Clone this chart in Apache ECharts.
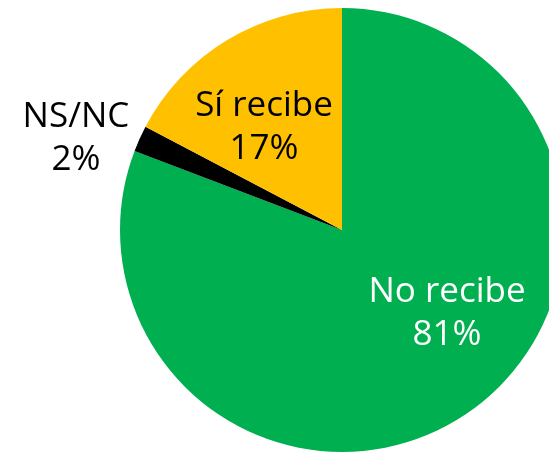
<!DOCTYPE html>
<html>
<head>
<meta charset="utf-8">
<script src="https://cdn.jsdelivr.net/npm/echarts@6/dist/echarts.min.js"></script>
<style>
  html, body { margin: 0; padding: 0; background: #fff; }
  #chart { width: 549px; height: 452px; }
</style>
</head>
<body>
<div id="chart"></div>
<script>
  // data
  const categories = ['No recibe', 'NS/NC', 'Sí recibe'];
  const values = [80.8, 1.9, 17.3];
  const colors = ['#00B050', '#000000', '#FFC000'];
  const labelColors = ['#ffffff', '#000000', '#000000'];
  // label centres (px)
  const labelPos = [[447, 314], [76, 139], [264, 128]];

  let chart = echarts.init(document.getElementById('chart'));

  let option = {
    animation: false,
    series: [{
      type: 'pie',
      center: [342, 230],
      radius: 222,
      startAngle: 90,
      clockwise: true,
      silent: true,
      label: {
        position: 'inside',
        formatter: function (p) {
          return p.name + '\n' + Math.round(p.percent) + '%';
        },
        fontFamily: 'Open Sans',
        fontSize: 35,
        lineHeight: 43,
        align: 'center'
      },
      labelLine: { show: false },
      labelLayout: function (p) {
        return {
          x: labelPos[p.dataIndex][0],
          y: labelPos[p.dataIndex][1],
          align: 'center',
          verticalAlign: 'middle'
        };
      },
      data: categories.map((name, i) => ({
        name: name,
        value: values[i],
        itemStyle: { color: colors[i] },
        label: { color: labelColors[i] }
      }))
    }]
  };

  chart.setOption(option);
</script>
</body>
</html>
